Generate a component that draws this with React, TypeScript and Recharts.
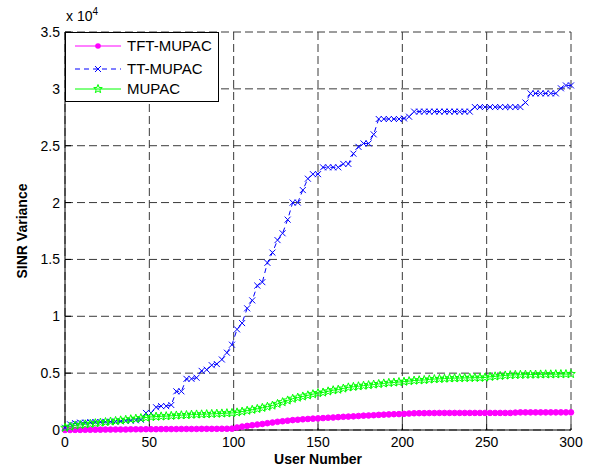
import React from 'react';
import { LineChart, Line, XAxis, YAxis, CartesianGrid, Label } from 'recharts';

// user index, sampled every 3 users
const users = Array.from({ length: 101 }, (_, i) => i * 3);

// SINR variance, in units of 10^4
const tftMupac = [
  0, 0, 0.001, 0.001, 0.002, 0.002, 0.003, 0.003, 0.004, 0.004,
  0.005, 0.005, 0.005, 0.006, 0.006, 0.006, 0.007, 0.007, 0.007, 0.008,
  0.008, 0.008, 0.008, 0.009, 0.009, 0.009, 0.009, 0.01, 0.01, 0.01,
  0.01, 0.011, 0.011, 0.012, 0.022, 0.03, 0.036, 0.042, 0.048, 0.053,
  0.06, 0.066, 0.072, 0.077, 0.082, 0.087, 0.09, 0.094, 0.097, 0.1,
  0.102, 0.105, 0.108, 0.11, 0.113, 0.116, 0.118, 0.12, 0.123, 0.126,
  0.128, 0.13, 0.133, 0.135, 0.137, 0.139, 0.14, 0.142, 0.145, 0.147,
  0.148, 0.148, 0.149, 0.149, 0.15, 0.15, 0.15, 0.15, 0.15, 0.15,
  0.15, 0.15, 0.15, 0.15, 0.15, 0.15, 0.15, 0.15, 0.15, 0.153,
  0.155, 0.155, 0.155, 0.155, 0.155, 0.155, 0.155, 0.155, 0.155, 0.155,
  0.155,
];

const ttMupac = [
  0.02, 0.05, 0.06, 0.065, 0.065, 0.068, 0.07, 0.07, 0.072, 0.073,
  0.075, 0.076, 0.08, 0.082, 0.085, 0.09, 0.15, 0.15, 0.2, 0.21,
  0.21, 0.22, 0.34, 0.34, 0.45, 0.45, 0.46, 0.52, 0.53, 0.57,
  0.58, 0.62, 0.68, 0.75, 0.885, 0.94, 1.07, 1.14, 1.27, 1.3,
  1.47, 1.56, 1.67, 1.73, 1.85, 2.0, 2.0, 2.11, 2.21, 2.25,
  2.25, 2.31, 2.31, 2.31, 2.31, 2.34, 2.34, 2.43, 2.49, 2.52,
  2.52, 2.6, 2.735, 2.735, 2.735, 2.735, 2.735, 2.74, 2.755, 2.8,
  2.8, 2.8, 2.8, 2.8, 2.8, 2.8, 2.8, 2.8, 2.8, 2.8,
  2.8, 2.84, 2.84, 2.84, 2.84, 2.84, 2.84, 2.84, 2.84, 2.84,
  2.84, 2.88, 2.96, 2.96, 2.96, 2.96, 2.96, 2.96, 3.005, 3.03,
  3.03,
];

const mupac = [
  0.02, 0.03, 0.04, 0.045, 0.05, 0.055, 0.06, 0.065, 0.07, 0.075,
  0.08, 0.085, 0.09, 0.095, 0.1, 0.105, 0.11, 0.115, 0.118, 0.12,
  0.122, 0.125, 0.128, 0.13, 0.132, 0.135, 0.137, 0.138, 0.14, 0.142,
  0.144, 0.146, 0.148, 0.15, 0.155, 0.162, 0.17, 0.178, 0.186, 0.195,
  0.205, 0.215, 0.23, 0.245, 0.26, 0.275, 0.285, 0.295, 0.305, 0.315,
  0.325, 0.33, 0.34, 0.35, 0.355, 0.365, 0.375, 0.38, 0.385, 0.39,
  0.395, 0.4, 0.405, 0.41, 0.415, 0.418, 0.422, 0.425, 0.43, 0.435,
  0.438, 0.44, 0.445, 0.448, 0.45, 0.452, 0.455, 0.456, 0.457, 0.458,
  0.459, 0.46, 0.46, 0.462, 0.468, 0.472, 0.476, 0.48, 0.483, 0.485,
  0.486, 0.487, 0.488, 0.488, 0.489, 0.49, 0.49, 0.491, 0.492, 0.492,
  0.493,
];

const xTicks = [0, 50, 100, 150, 200, 250, 300];
const yTicks = [0, 0.5, 1, 1.5, 2, 2.5, 3, 3.5];

const data = users.map((u, i) => ({ user: u, tft: tftMupac[i], tt: ttMupac[i], mupac: mupac[i] }));

const FONT = '"Liberation Sans", Arial, sans-serif';

const dotMark = (props: any) => (
  <circle key={`d-${props.index}`} cx={props.cx} cy={props.cy} r={2.8} fill="#ff00ff" stroke="#ff00ff" />
);

const crossPath = (cx: number, cy: number, s: number) =>
  `M${cx - s},${cy - s}L${cx + s},${cy + s}M${cx - s},${cy + s}L${cx + s},${cy - s}`;

const crossMark = (props: any) => (
  <path key={`x-${props.index}`} d={crossPath(props.cx, props.cy, 3)} stroke="#0000ff" strokeWidth={1} fill="none" />
);

const starPath = (cx: number, cy: number, r: number) => {
  let d = '';
  for (let k = 0; k < 10; k++) {
    const rad = k % 2 === 0 ? r : r * 0.42;
    const a = -Math.PI / 2 + (k * Math.PI) / 5;
    d += `${k === 0 ? 'M' : 'L'}${cx + rad * Math.cos(a)},${cy + rad * Math.sin(a)}`;
  }
  return d + 'Z';
};

const starMark = (props: any) => (
  <path key={`s-${props.index}`} d={starPath(props.cx, props.cy, 4.5)} stroke="#00ff00" strokeWidth={1} fill="none" />
);

const LegendBox = () => (
  <div
    style={{
      position: 'absolute', left: 65, top: 32, width: 152, height: 68,
      border: '1px solid #000', background: '#fff', fontFamily: FONT, fontSize: 15,
    }}
  >
    <svg width={152} height={68} style={{ position: 'absolute', left: 0, top: 0 }}>
      <line x1={9} x2={55} y1={13} y2={13} stroke="#ff00ff" />
      <circle cx={32} cy={13} r={2.8} fill="#ff00ff" />
      <line x1={9} x2={55} y1={36} y2={36} stroke="#0000ff" strokeDasharray="5 4" />
      <path d={crossPath(32, 36, 3)} stroke="#0000ff" fill="none" />
      <line x1={9} x2={55} y1={56} y2={56} stroke="#00ff00" />
      <path d={starPath(32, 56, 4.5)} stroke="#00ff00" fill="none" />
      <text x={61} y={18} fontSize={15} fontFamily={FONT}>TFT-MUPAC</text>
      <text x={61} y={41} fontSize={15} fontFamily={FONT}>TT-MUPAC</text>
      <text x={61} y={61} fontSize={15} fontFamily={FONT}>MUPAC</text>
    </svg>
  </div>
);

export default function App() {
  return (
    <div style={{ position: 'fixed', left: 0, top: 0, width: 592, height: 471, background: '#fff' }}>
      <LineChart width={592} height={471} data={data} margin={{ top: 32, right: 21, bottom: 11, left: 25 }}>
        <CartesianGrid stroke="#3a3a3a" strokeDasharray="8 4" />
        <XAxis
          dataKey="user"
          type="number"
          domain={[0, 300]}
          ticks={xTicks}
          height={30}
          tickSize={-6}
          tickMargin={13}
          stroke="#000"
          tick={{ fill: '#000', fontSize: 14, fontFamily: FONT }}
        >
          <Label value="User Number" position="insideBottom" offset={-4} style={{ fontWeight: 'bold', fontSize: 14, fontFamily: FONT, fill: '#000' }} />
        </XAxis>
        <XAxis xAxisId="top" orientation="top" dataKey="user" type="number" domain={[0, 300]} ticks={xTicks} height={0} tickSize={-6} tick={false} stroke="#000" />
        <YAxis
          type="number"
          domain={[0, 3.5]}
          ticks={yTicks}
          width={40}
          tickSize={-6}
          tickMargin={11}
          stroke="#000"
          tick={{ fill: '#000', fontSize: 14, fontFamily: FONT }}
        >
          <Label value="SINR Variance" angle={-90} position="insideLeft" offset={-3} style={{ textAnchor: 'middle', fontWeight: 'bold', fontSize: 14, fontFamily: FONT, fill: '#000' }} />
        </YAxis>
        <YAxis yAxisId="right" orientation="right" type="number" domain={[0, 3.5]} ticks={yTicks} width={0} tickSize={-6} tick={false} stroke="#000" />
        <Line dataKey="tft" stroke="#ff00ff" strokeWidth={1} dot={dotMark} isAnimationActive={false} />
        <Line dataKey="tt" stroke="#0000ff" strokeWidth={1} strokeDasharray="5 4" dot={crossMark} isAnimationActive={false} />
        <Line dataKey="mupac" stroke="#00ff00" strokeWidth={1} dot={starMark} isAnimationActive={false} />
      </LineChart>
      <div style={{ position: 'absolute', left: 66, top: 6, fontFamily: FONT, fontSize: 14 }}>
        x 10<sup style={{ fontSize: 10 }}>4</sup>
      </div>
      <LegendBox />
    </div>
  );
}
